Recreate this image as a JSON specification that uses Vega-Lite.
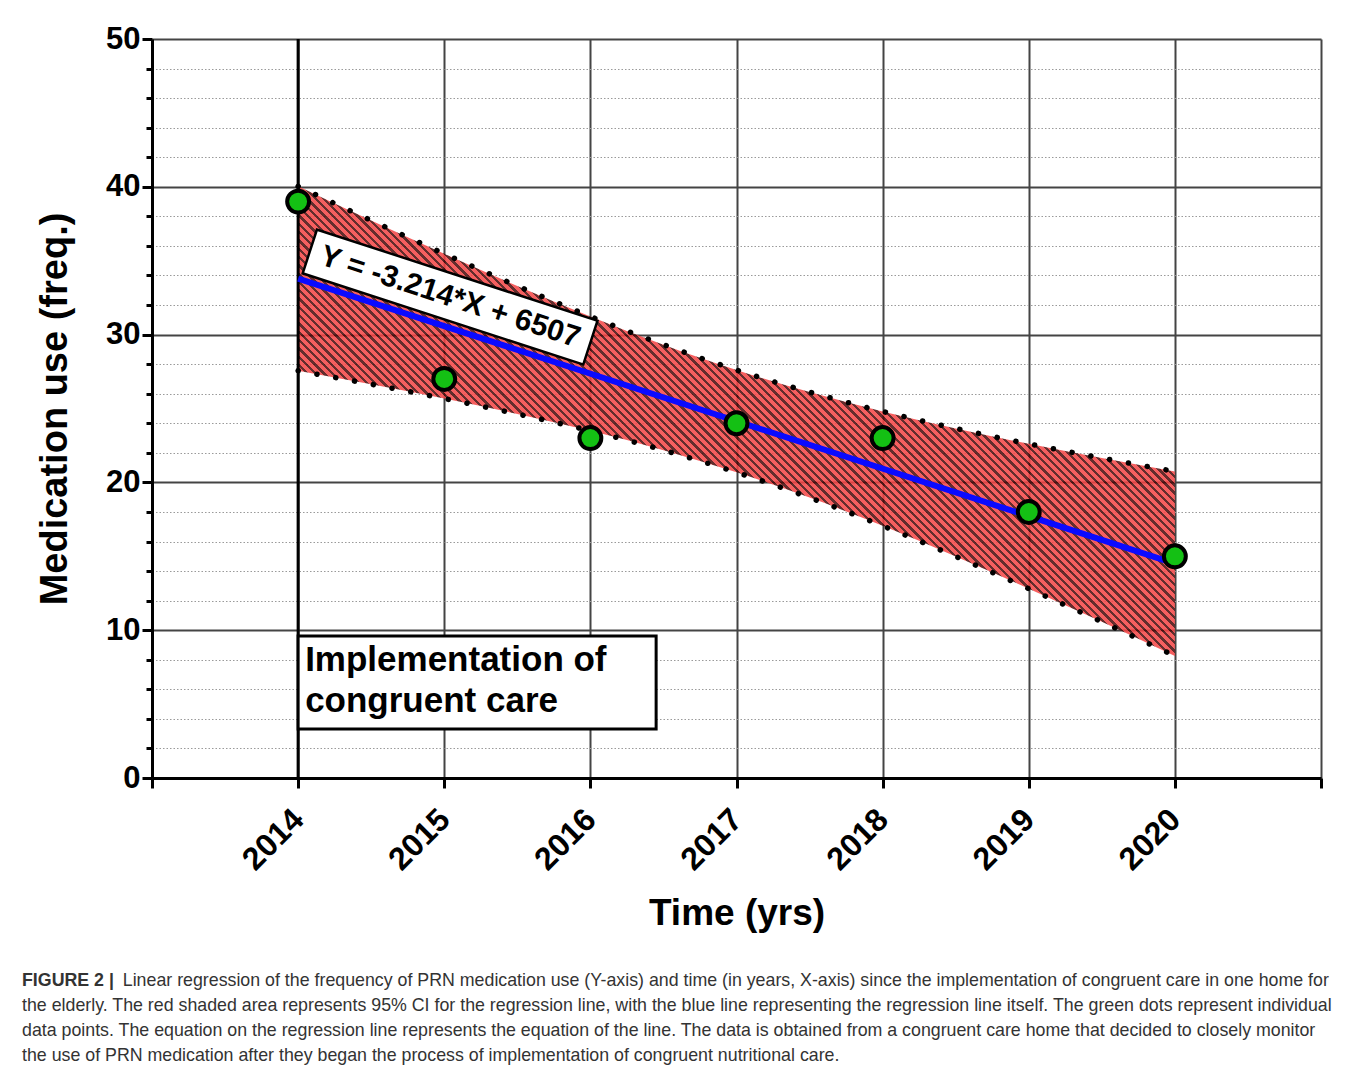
{
"$schema": "https://vega.github.io/schema/vega-lite/v6.json",
"width": 1169,
"height": 739,
"autosize": {"type": "none"},
"padding": {"left": 152, "top": 39, "right": 36, "bottom": 290},
"background": "white",
"config": {"view": {"stroke": null}, "font": "Liberation Sans"},
"title": {
"text": "FIGURE 2 |",
"subtitle": ["\u200b\u2003\u2003\u2003\u2003\u2003\u2002\u2006Linear regression of the frequency of PRN medication use (Y-axis) and time (in years, X-axis) since the implementation of congruent care in one home for", "the elderly. The red shaded area represents 95% CI for the regression line, with the blue line representing the regression line itself. The green dots represent individual", "data points. The equation on the regression line represents the equation of the line. The data is obtained from a congruent care home that decided to closely monitor", "the use of PRN medication after they began the process of implementation of congruent nutritional care."],
"orient": "bottom", "anchor": "start", "frame": "group", "dx": -130, "offset": 40,
"font": "Liberation Sans", "fontSize": 17.8, "fontWeight": "bold", "color": "#333333",
"subtitleFont": "Liberation Sans", "subtitleFontSize": 17.8, "subtitleFontWeight": "normal", "subtitleColor": "#333333",
"subtitleLineHeight": 25, "subtitlePadding": -17.8
},
"datasets": {
"points": [
{"year": 2014, "freq": 39}, {"year": 2015, "freq": 27}, {"year": 2016, "freq": 23}, {"year": 2017, "freq": 24}, {"year": 2018, "freq": 23}, {"year": 2019, "freq": 18}, {"year": 2020, "freq": 15}
],
"band": [
{"year": 2014, "lower": 27.55, "upper": 40.03},
{"year": 2014.5, "lower": 26.64, "upper": 37.72},
{"year": 2015, "lower": 25.67, "upper": 35.47},
{"year": 2015.5, "lower": 24.63, "upper": 33.29},
{"year": 2016, "lower": 23.49, "upper": 31.23},
{"year": 2016.5, "lower": 22.18, "upper": 29.32},
{"year": 2017, "lower": 20.68, "upper": 27.6},
{"year": 2017.5, "lower": 18.97, "upper": 26.11},
{"year": 2018, "lower": 17.06, "upper": 24.8},
{"year": 2018.5, "lower": 14.99, "upper": 23.65},
{"year": 2019, "lower": 12.81, "upper": 22.61},
{"year": 2019.5, "lower": 10.57, "upper": 21.65},
{"year": 2020, "lower": 8.26, "upper": 20.74}
],
"fit": [
{"year": 2014, "fit": 33.79}, {"year": 2020, "fit": 14.5}
]
},
"layer": [
{
"data": {"name": "band"},
"mark": {"type": "area", "interpolate": "monotone", "fillOpacity": 0.85,
"fill": {"gradient": "linear", "x1": 0.03, "y1": 0.5195, "x2": 0.766, "y2": 0.1253, "stops": [
{"offset":0,"color":"#f34343"},{"offset":0.006,"color":"#f34343"},{"offset":0.006,"color":"#490808"},{"offset":0.01,"color":"#490808"},
{"offset":0.01,"color":"#f34343"},{"offset":0.016,"color":"#f34343"},{"offset":0.016,"color":"#490808"},{"offset":0.02,"color":"#490808"},
{"offset":0.02,"color":"#f34343"},{"offset":0.026,"color":"#f34343"},{"offset":0.026,"color":"#490808"},{"offset":0.03,"color":"#490808"},
{"offset":0.03,"color":"#f34343"},{"offset":0.036,"color":"#f34343"},{"offset":0.036,"color":"#490808"},{"offset":0.04,"color":"#490808"},
{"offset":0.04,"color":"#f34343"},{"offset":0.046,"color":"#f34343"},{"offset":0.046,"color":"#490808"},{"offset":0.05,"color":"#490808"},
{"offset":0.05,"color":"#f34343"},{"offset":0.056,"color":"#f34343"},{"offset":0.056,"color":"#490808"},{"offset":0.06,"color":"#490808"},
{"offset":0.06,"color":"#f34343"},{"offset":0.066,"color":"#f34343"},{"offset":0.066,"color":"#490808"},{"offset":0.07,"color":"#490808"},
{"offset":0.07,"color":"#f34343"},{"offset":0.076,"color":"#f34343"},{"offset":0.076,"color":"#490808"},{"offset":0.08,"color":"#490808"},
{"offset":0.08,"color":"#f34343"},{"offset":0.086,"color":"#f34343"},{"offset":0.086,"color":"#490808"},{"offset":0.09,"color":"#490808"},
{"offset":0.09,"color":"#f34343"},{"offset":0.096,"color":"#f34343"},{"offset":0.096,"color":"#490808"},{"offset":0.1,"color":"#490808"},
{"offset":0.1,"color":"#f34343"},{"offset":0.106,"color":"#f34343"},{"offset":0.106,"color":"#490808"},{"offset":0.11,"color":"#490808"},
{"offset":0.11,"color":"#f34343"},{"offset":0.116,"color":"#f34343"},{"offset":0.116,"color":"#490808"},{"offset":0.12,"color":"#490808"},
{"offset":0.12,"color":"#f34343"},{"offset":0.126,"color":"#f34343"},{"offset":0.126,"color":"#490808"},{"offset":0.13,"color":"#490808"},
{"offset":0.13,"color":"#f34343"},{"offset":0.136,"color":"#f34343"},{"offset":0.136,"color":"#490808"},{"offset":0.14,"color":"#490808"},
{"offset":0.14,"color":"#f34343"},{"offset":0.146,"color":"#f34343"},{"offset":0.146,"color":"#490808"},{"offset":0.15,"color":"#490808"},
{"offset":0.15,"color":"#f34343"},{"offset":0.156,"color":"#f34343"},{"offset":0.156,"color":"#490808"},{"offset":0.16,"color":"#490808"},
{"offset":0.16,"color":"#f34343"},{"offset":0.166,"color":"#f34343"},{"offset":0.166,"color":"#490808"},{"offset":0.17,"color":"#490808"},
{"offset":0.17,"color":"#f34343"},{"offset":0.176,"color":"#f34343"},{"offset":0.176,"color":"#490808"},{"offset":0.18,"color":"#490808"},
{"offset":0.18,"color":"#f34343"},{"offset":0.186,"color":"#f34343"},{"offset":0.186,"color":"#490808"},{"offset":0.19,"color":"#490808"},
{"offset":0.19,"color":"#f34343"},{"offset":0.196,"color":"#f34343"},{"offset":0.196,"color":"#490808"},{"offset":0.2,"color":"#490808"},
{"offset":0.2,"color":"#f34343"},{"offset":0.206,"color":"#f34343"},{"offset":0.206,"color":"#490808"},{"offset":0.21,"color":"#490808"},
{"offset":0.21,"color":"#f34343"},{"offset":0.216,"color":"#f34343"},{"offset":0.216,"color":"#490808"},{"offset":0.22,"color":"#490808"},
{"offset":0.22,"color":"#f34343"},{"offset":0.226,"color":"#f34343"},{"offset":0.226,"color":"#490808"},{"offset":0.23,"color":"#490808"},
{"offset":0.23,"color":"#f34343"},{"offset":0.236,"color":"#f34343"},{"offset":0.236,"color":"#490808"},{"offset":0.24,"color":"#490808"},
{"offset":0.24,"color":"#f34343"},{"offset":0.246,"color":"#f34343"},{"offset":0.246,"color":"#490808"},{"offset":0.25,"color":"#490808"},
{"offset":0.25,"color":"#f34343"},{"offset":0.256,"color":"#f34343"},{"offset":0.256,"color":"#490808"},{"offset":0.26,"color":"#490808"},
{"offset":0.26,"color":"#f34343"},{"offset":0.266,"color":"#f34343"},{"offset":0.266,"color":"#490808"},{"offset":0.27,"color":"#490808"},
{"offset":0.27,"color":"#f34343"},{"offset":0.276,"color":"#f34343"},{"offset":0.276,"color":"#490808"},{"offset":0.28,"color":"#490808"},
{"offset":0.28,"color":"#f34343"},{"offset":0.286,"color":"#f34343"},{"offset":0.286,"color":"#490808"},{"offset":0.29,"color":"#490808"},
{"offset":0.29,"color":"#f34343"},{"offset":0.296,"color":"#f34343"},{"offset":0.296,"color":"#490808"},{"offset":0.3,"color":"#490808"},
{"offset":0.3,"color":"#f34343"},{"offset":0.306,"color":"#f34343"},{"offset":0.306,"color":"#490808"},{"offset":0.31,"color":"#490808"},
{"offset":0.31,"color":"#f34343"},{"offset":0.316,"color":"#f34343"},{"offset":0.316,"color":"#490808"},{"offset":0.32,"color":"#490808"},
{"offset":0.32,"color":"#f34343"},{"offset":0.326,"color":"#f34343"},{"offset":0.326,"color":"#490808"},{"offset":0.33,"color":"#490808"},
{"offset":0.33,"color":"#f34343"},{"offset":0.336,"color":"#f34343"},{"offset":0.336,"color":"#490808"},{"offset":0.34,"color":"#490808"},
{"offset":0.34,"color":"#f34343"},{"offset":0.346,"color":"#f34343"},{"offset":0.346,"color":"#490808"},{"offset":0.35,"color":"#490808"},
{"offset":0.35,"color":"#f34343"},{"offset":0.356,"color":"#f34343"},{"offset":0.356,"color":"#490808"},{"offset":0.36,"color":"#490808"},
{"offset":0.36,"color":"#f34343"},{"offset":0.366,"color":"#f34343"},{"offset":0.366,"color":"#490808"},{"offset":0.37,"color":"#490808"},
{"offset":0.37,"color":"#f34343"},{"offset":0.376,"color":"#f34343"},{"offset":0.376,"color":"#490808"},{"offset":0.38,"color":"#490808"},
{"offset":0.38,"color":"#f34343"},{"offset":0.386,"color":"#f34343"},{"offset":0.386,"color":"#490808"},{"offset":0.39,"color":"#490808"},
{"offset":0.39,"color":"#f34343"},{"offset":0.396,"color":"#f34343"},{"offset":0.396,"color":"#490808"},{"offset":0.4,"color":"#490808"},
{"offset":0.4,"color":"#f34343"},{"offset":0.406,"color":"#f34343"},{"offset":0.406,"color":"#490808"},{"offset":0.41,"color":"#490808"},
{"offset":0.41,"color":"#f34343"},{"offset":0.416,"color":"#f34343"},{"offset":0.416,"color":"#490808"},{"offset":0.42,"color":"#490808"},
{"offset":0.42,"color":"#f34343"},{"offset":0.426,"color":"#f34343"},{"offset":0.426,"color":"#490808"},{"offset":0.43,"color":"#490808"},
{"offset":0.43,"color":"#f34343"},{"offset":0.436,"color":"#f34343"},{"offset":0.436,"color":"#490808"},{"offset":0.44,"color":"#490808"},
{"offset":0.44,"color":"#f34343"},{"offset":0.446,"color":"#f34343"},{"offset":0.446,"color":"#490808"},{"offset":0.45,"color":"#490808"},
{"offset":0.45,"color":"#f34343"},{"offset":0.456,"color":"#f34343"},{"offset":0.456,"color":"#490808"},{"offset":0.46,"color":"#490808"},
{"offset":0.46,"color":"#f34343"},{"offset":0.466,"color":"#f34343"},{"offset":0.466,"color":"#490808"},{"offset":0.47,"color":"#490808"},
{"offset":0.47,"color":"#f34343"},{"offset":0.476,"color":"#f34343"},{"offset":0.476,"color":"#490808"},{"offset":0.48,"color":"#490808"},
{"offset":0.48,"color":"#f34343"},{"offset":0.486,"color":"#f34343"},{"offset":0.486,"color":"#490808"},{"offset":0.49,"color":"#490808"},
{"offset":0.49,"color":"#f34343"},{"offset":0.496,"color":"#f34343"},{"offset":0.496,"color":"#490808"},{"offset":0.5,"color":"#490808"},
{"offset":0.5,"color":"#f34343"},{"offset":0.506,"color":"#f34343"},{"offset":0.506,"color":"#490808"},{"offset":0.51,"color":"#490808"},
{"offset":0.51,"color":"#f34343"},{"offset":0.516,"color":"#f34343"},{"offset":0.516,"color":"#490808"},{"offset":0.52,"color":"#490808"},
{"offset":0.52,"color":"#f34343"},{"offset":0.526,"color":"#f34343"},{"offset":0.526,"color":"#490808"},{"offset":0.53,"color":"#490808"},
{"offset":0.53,"color":"#f34343"},{"offset":0.536,"color":"#f34343"},{"offset":0.536,"color":"#490808"},{"offset":0.54,"color":"#490808"},
{"offset":0.54,"color":"#f34343"},{"offset":0.546,"color":"#f34343"},{"offset":0.546,"color":"#490808"},{"offset":0.55,"color":"#490808"},
{"offset":0.55,"color":"#f34343"},{"offset":0.556,"color":"#f34343"},{"offset":0.556,"color":"#490808"},{"offset":0.56,"color":"#490808"},
{"offset":0.56,"color":"#f34343"},{"offset":0.566,"color":"#f34343"},{"offset":0.566,"color":"#490808"},{"offset":0.57,"color":"#490808"},
{"offset":0.57,"color":"#f34343"},{"offset":0.576,"color":"#f34343"},{"offset":0.576,"color":"#490808"},{"offset":0.58,"color":"#490808"},
{"offset":0.58,"color":"#f34343"},{"offset":0.586,"color":"#f34343"},{"offset":0.586,"color":"#490808"},{"offset":0.59,"color":"#490808"},
{"offset":0.59,"color":"#f34343"},{"offset":0.596,"color":"#f34343"},{"offset":0.596,"color":"#490808"},{"offset":0.6,"color":"#490808"},
{"offset":0.6,"color":"#f34343"},{"offset":0.606,"color":"#f34343"},{"offset":0.606,"color":"#490808"},{"offset":0.61,"color":"#490808"},
{"offset":0.61,"color":"#f34343"},{"offset":0.616,"color":"#f34343"},{"offset":0.616,"color":"#490808"},{"offset":0.62,"color":"#490808"},
{"offset":0.62,"color":"#f34343"},{"offset":0.626,"color":"#f34343"},{"offset":0.626,"color":"#490808"},{"offset":0.63,"color":"#490808"},
{"offset":0.63,"color":"#f34343"},{"offset":0.636,"color":"#f34343"},{"offset":0.636,"color":"#490808"},{"offset":0.64,"color":"#490808"},
{"offset":0.64,"color":"#f34343"},{"offset":0.646,"color":"#f34343"},{"offset":0.646,"color":"#490808"},{"offset":0.65,"color":"#490808"},
{"offset":0.65,"color":"#f34343"},{"offset":0.656,"color":"#f34343"},{"offset":0.656,"color":"#490808"},{"offset":0.66,"color":"#490808"},
{"offset":0.66,"color":"#f34343"},{"offset":0.666,"color":"#f34343"},{"offset":0.666,"color":"#490808"},{"offset":0.67,"color":"#490808"},
{"offset":0.67,"color":"#f34343"},{"offset":0.676,"color":"#f34343"},{"offset":0.676,"color":"#490808"},{"offset":0.68,"color":"#490808"},
{"offset":0.68,"color":"#f34343"},{"offset":0.686,"color":"#f34343"},{"offset":0.686,"color":"#490808"},{"offset":0.69,"color":"#490808"},
{"offset":0.69,"color":"#f34343"},{"offset":0.696,"color":"#f34343"},{"offset":0.696,"color":"#490808"},{"offset":0.7,"color":"#490808"},
{"offset":0.7,"color":"#f34343"},{"offset":0.706,"color":"#f34343"},{"offset":0.706,"color":"#490808"},{"offset":0.71,"color":"#490808"},
{"offset":0.71,"color":"#f34343"},{"offset":0.716,"color":"#f34343"},{"offset":0.716,"color":"#490808"},{"offset":0.72,"color":"#490808"},
{"offset":0.72,"color":"#f34343"},{"offset":0.726,"color":"#f34343"},{"offset":0.726,"color":"#490808"},{"offset":0.73,"color":"#490808"},
{"offset":0.73,"color":"#f34343"},{"offset":0.736,"color":"#f34343"},{"offset":0.736,"color":"#490808"},{"offset":0.74,"color":"#490808"},
{"offset":0.74,"color":"#f34343"},{"offset":0.746,"color":"#f34343"},{"offset":0.746,"color":"#490808"},{"offset":0.75,"color":"#490808"},
{"offset":0.75,"color":"#f34343"},{"offset":0.756,"color":"#f34343"},{"offset":0.756,"color":"#490808"},{"offset":0.76,"color":"#490808"},
{"offset":0.76,"color":"#f34343"},{"offset":0.766,"color":"#f34343"},{"offset":0.766,"color":"#490808"},{"offset":0.77,"color":"#490808"},
{"offset":0.77,"color":"#f34343"},{"offset":0.776,"color":"#f34343"},{"offset":0.776,"color":"#490808"},{"offset":0.78,"color":"#490808"},
{"offset":0.78,"color":"#f34343"},{"offset":0.786,"color":"#f34343"},{"offset":0.786,"color":"#490808"},{"offset":0.79,"color":"#490808"},
{"offset":0.79,"color":"#f34343"},{"offset":0.796,"color":"#f34343"},{"offset":0.796,"color":"#490808"},{"offset":0.8,"color":"#490808"},
{"offset":0.8,"color":"#f34343"},{"offset":0.806,"color":"#f34343"},{"offset":0.806,"color":"#490808"},{"offset":0.81,"color":"#490808"},
{"offset":0.81,"color":"#f34343"},{"offset":0.816,"color":"#f34343"},{"offset":0.816,"color":"#490808"},{"offset":0.82,"color":"#490808"},
{"offset":0.82,"color":"#f34343"},{"offset":0.826,"color":"#f34343"},{"offset":0.826,"color":"#490808"},{"offset":0.83,"color":"#490808"},
{"offset":0.83,"color":"#f34343"},{"offset":0.836,"color":"#f34343"},{"offset":0.836,"color":"#490808"},{"offset":0.84,"color":"#490808"},
{"offset":0.84,"color":"#f34343"},{"offset":0.846,"color":"#f34343"},{"offset":0.846,"color":"#490808"},{"offset":0.85,"color":"#490808"},
{"offset":0.85,"color":"#f34343"},{"offset":0.856,"color":"#f34343"},{"offset":0.856,"color":"#490808"},{"offset":0.86,"color":"#490808"},
{"offset":0.86,"color":"#f34343"},{"offset":0.866,"color":"#f34343"},{"offset":0.866,"color":"#490808"},{"offset":0.87,"color":"#490808"},
{"offset":0.87,"color":"#f34343"},{"offset":0.876,"color":"#f34343"},{"offset":0.876,"color":"#490808"},{"offset":0.88,"color":"#490808"},
{"offset":0.88,"color":"#f34343"},{"offset":0.886,"color":"#f34343"},{"offset":0.886,"color":"#490808"},{"offset":0.89,"color":"#490808"},
{"offset":0.89,"color":"#f34343"},{"offset":0.896,"color":"#f34343"},{"offset":0.896,"color":"#490808"},{"offset":0.9,"color":"#490808"},
{"offset":0.9,"color":"#f34343"},{"offset":0.906,"color":"#f34343"},{"offset":0.906,"color":"#490808"},{"offset":0.91,"color":"#490808"},
{"offset":0.91,"color":"#f34343"},{"offset":0.916,"color":"#f34343"},{"offset":0.916,"color":"#490808"},{"offset":0.92,"color":"#490808"},
{"offset":0.92,"color":"#f34343"},{"offset":0.926,"color":"#f34343"},{"offset":0.926,"color":"#490808"},{"offset":0.93,"color":"#490808"},
{"offset":0.93,"color":"#f34343"},{"offset":0.936,"color":"#f34343"},{"offset":0.936,"color":"#490808"},{"offset":0.94,"color":"#490808"},
{"offset":0.94,"color":"#f34343"},{"offset":0.946,"color":"#f34343"},{"offset":0.946,"color":"#490808"},{"offset":0.95,"color":"#490808"},
{"offset":0.95,"color":"#f34343"},{"offset":0.956,"color":"#f34343"},{"offset":0.956,"color":"#490808"},{"offset":0.96,"color":"#490808"},
{"offset":0.96,"color":"#f34343"},{"offset":0.966,"color":"#f34343"},{"offset":0.966,"color":"#490808"},{"offset":0.97,"color":"#490808"},
{"offset":0.97,"color":"#f34343"},{"offset":0.976,"color":"#f34343"},{"offset":0.976,"color":"#490808"},{"offset":0.98,"color":"#490808"},
{"offset":0.98,"color":"#f34343"},{"offset":0.986,"color":"#f34343"},{"offset":0.986,"color":"#490808"},{"offset":0.99,"color":"#490808"},
{"offset":0.99,"color":"#f34343"},{"offset":0.996,"color":"#f34343"},{"offset":0.996,"color":"#490808"},{"offset":1,"color":"#490808"}
]}},
"encoding": {
"x": {"field": "year", "type": "quantitative", "scale": {"domain": [2013, 2021], "nice": false, "zero": false},
"axis": {
"values": [2013, 2014, 2015, 2016, 2017, 2018, 2019, 2020, 2021],
"tickCount": 50,
"format": "d",
"labelExpr": "datum.value == 2013 || datum.value == 2021 ? '' : datum.label",
"labelAngle": -45, "labelAlign": "right", "labelBaseline": "middle", "labelPadding": 26,
"labelFont": "Liberation Sans", "labelFontSize": 32, "labelFontWeight": "bold", "labelColor": "black",
"labelFlush": false, "labelOverlap": false,
"tickSize": 10, "tickWidth": 3, "tickColor": "black",
"domainColor": "black", "domainWidth": 3,
"grid": true, "gridColor": "#444444", "gridWidth": 2,
"title": "Time (yrs)", "titleFont": "Liberation Sans", "titleFontSize": 37, "titleFontWeight": "bold", "titleColor": "black", "titlePadding": 20
}},
"y": {"field": "lower", "type": "quantitative", "scale": {"domain": [0, 50], "nice": false, "zero": false},
"axis": {
"values": [0, 2, 4, 6, 8, 10, 12, 14, 16, 18, 20, 22, 24, 26, 28, 30, 32, 34, 36, 38, 40, 42, 44, 46, 48, 50],
"tickCount": 100,
"format": "d",
"labelExpr": "datum.value % 10 === 0 ? datum.label : ''",
"labelFont": "Liberation Sans", "labelFontSize": 31, "labelFontWeight": "bold", "labelColor": "black", "labelPadding": 2,
"labelFlush": false, "labelOverlap": false,
"tickSize": {"condition": {"test": "datum.value % 10 === 0", "value": 10}, "value": 6},
"tickWidth": 3, "tickColor": "black",
"domainColor": "black", "domainWidth": 3,
"grid": true,
"gridColor": {"condition": {"test": "datum.value % 10 === 0", "value": "#444444"}, "value": "#9a9a9a"},
"gridWidth": {"condition": {"test": "datum.value % 10 === 0", "value": 2}, "value": 1.2},
"gridDash": {"condition": {"test": "datum.value % 10 === 0", "value": []}, "value": [1.5, 2]},
"title": "Medication use (freq.)", "titleFont": "Liberation Sans", "titleFontSize": 38, "titleFontWeight": "bold", "titleColor": "black", "titlePadding": 31
}},
"y2": {"field": "upper"}
}
},
{
"data": {"values": [{}]},
"mark": {"type": "rule", "color": "black", "strokeWidth": 3},
"encoding": {"x": {"datum": 2014, "type": "quantitative"}}
},
{
"data": {"name": "band"},
"mark": {"type": "line", "interpolate": "monotone", "color": "black", "strokeWidth": 5.5, "strokeCap": "round", "strokeDash": [0.1, 19]},
"encoding": {"x": {"field": "year", "type": "quantitative"}, "y": {"field": "upper", "type": "quantitative"}}
},
{
"data": {"name": "band"},
"mark": {"type": "line", "interpolate": "monotone", "color": "black", "strokeWidth": 5.5, "strokeCap": "round", "strokeDash": [0.1, 19]},
"encoding": {"x": {"field": "year", "type": "quantitative"}, "y": {"field": "lower", "type": "quantitative"}}
},
{
"data": {"name": "fit"},
"mark": {"type": "line", "color": "#0a0aff", "strokeWidth": 6},
"encoding": {"x": {"field": "year", "type": "quantitative"}, "y": {"field": "fit", "type": "quantitative"}}
},
{
"data": {"name": "points"},
"mark": {"type": "point", "shape": "circle", "filled": true, "fill": "#14c014", "stroke": "black", "strokeWidth": 4, "size": 480, "opacity": 1},
"encoding": {"x": {"field": "year", "type": "quantitative"}, "y": {"field": "freq", "type": "quantitative"}}
},
{
"data": {"values": [{}]},
"mark": {"type": "point", "shape": "M-1,-0.156H1V0.156H-1Z", "size": 87025, "angle": 18, "filled": true, "fill": "white", "stroke": "black", "strokeWidth": 2.5, "opacity": 1},
"encoding": {"x": {"datum": 2015.04, "type": "quantitative"}, "y": {"datum": 32.54, "type": "quantitative"}}
},
{
"data": {"values": [{}]},
"mark": {"type": "text", "text": "Y = -3.214*X + 6507", "angle": 18, "align": "center", "baseline": "middle", "font": "Liberation Sans", "fontSize": 30, "fontWeight": "bold", "color": "black"},
"encoding": {"x": {"datum": 2015.04, "type": "quantitative"}, "y": {"datum": 32.54, "type": "quantitative"}}
},
{
"data": {"values": [{}]},
"mark": {"type": "rect", "fill": "white", "stroke": "black", "strokeWidth": 3},
"encoding": {"x": {"datum": 2014, "type": "quantitative"}, "x2": {"datum": 2016.45}, "y": {"datum": 9.61, "type": "quantitative"}, "y2": {"datum": 3.32}}
},
{
"data": {"values": [{}]},
"mark": {"type": "text", "text": ["Implementation of", "congruent care"], "align": "left", "baseline": "top", "dx": 7, "dy": 7, "lineHeight": 41, "font": "Liberation Sans", "fontSize": 35, "fontWeight": "bold", "color": "black"},
"encoding": {"x": {"datum": 2014, "type": "quantitative"}, "y": {"datum": 9.61, "type": "quantitative"}}
}
]
}
